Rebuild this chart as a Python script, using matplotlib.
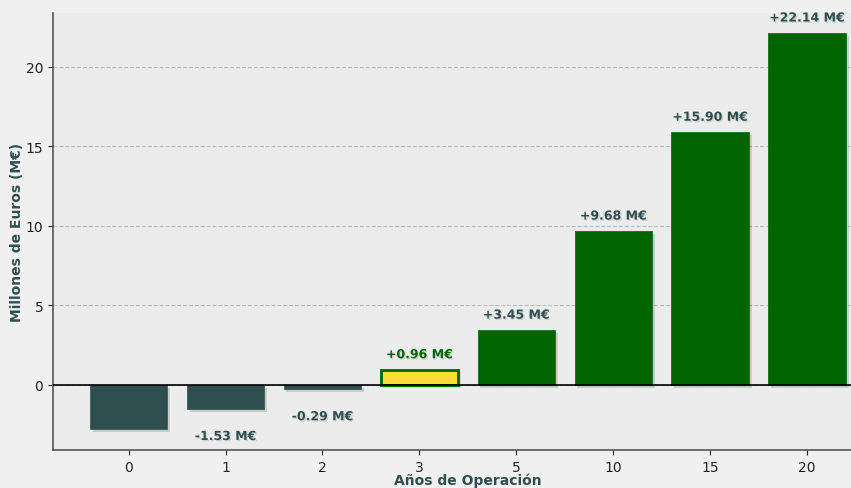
import matplotlib
matplotlib.use("Agg")
import matplotlib.pyplot as plt
import matplotlib.patheffects as pe

years = ["0", "1", "2", "3", "5", "10", "15", "20"]
values = [-2.80, -1.53, -0.29, 0.96, 3.45, 9.68, 15.90, 22.14]
breakeven_year = "3"

neg_color = "#2f4f4f"
pos_color = "#006400"
be_color = "#fddc34"

fig = plt.figure(figsize=(8.51, 4.89), dpi=100, facecolor="#f0f0f0")
ax = fig.add_axes([0.0623, 0.0777, 0.975, 0.894])
ax.set_facecolor("#ececec")

shadow = [pe.SimplePatchShadow(offset=(2, -2), alpha=0.15), pe.Normal()]
text_shadow = [pe.withSimplePatchShadow(offset=(1, -1), alpha=0.12)]

x = list(range(len(years)))
for i, (yr, v) in enumerate(zip(years, values)):
    if yr == breakeven_year:
        fc, ec, lw, tc = be_color, pos_color, 2, pos_color
    elif v < 0:
        fc, ec, lw, tc = neg_color, neg_color, 0.5, neg_color
    else:
        fc, ec, lw, tc = pos_color, pos_color, 0.5, neg_color
    bar = ax.bar(i, v, width=0.8, color=fc, edgecolor=ec, linewidth=lw, zorder=3)
    for p in bar:
        p.set_path_effects(shadow)
    if i == 0:
        continue
    if v >= 0:
        ax.annotate(f"+{v:.2f} M€", (i, v), xytext=(0, 6), textcoords="offset points",
                    ha="center", va="bottom", fontsize=9, fontweight="bold",
                    color=tc, path_effects=text_shadow, zorder=4)
    else:
        ax.annotate(f"{v:.2f} M€", (i, v), xytext=(0, -15), textcoords="offset points",
                    ha="center", va="top", fontsize=9, fontweight="bold",
                    color=tc, path_effects=text_shadow, zorder=4)

ax.axhline(0, color="black", linewidth=1.2, zorder=4)
ax.set_xticks(x)
ax.set_xticklabels(years)
ax.set_yticks([0, 5, 10, 15, 20])
ax.set_xlim(-0.78, 7.78)
ax.set_ylim(-4.1, 23.4)
ax.grid(axis="y", linestyle="--", color="#bbbbbb", linewidth=0.8, zorder=0)
ax.tick_params(labelsize=10, colors="#222222")
for s in ["top", "right"]:
    ax.spines[s].set_visible(False)
for s in ["left", "bottom"]:
    ax.spines[s].set_color("#555555")
    ax.spines[s].set_linewidth(1.2)

ax.set_ylabel("Millones de Euros (M€)", fontsize=10, fontweight="bold", color=neg_color, labelpad=1)
ax.set_xlabel("Años de Operación", fontsize=10, fontweight="bold", color=neg_color, labelpad=-1)

fig.savefig("out.png", dpi=100, facecolor=fig.get_facecolor())
